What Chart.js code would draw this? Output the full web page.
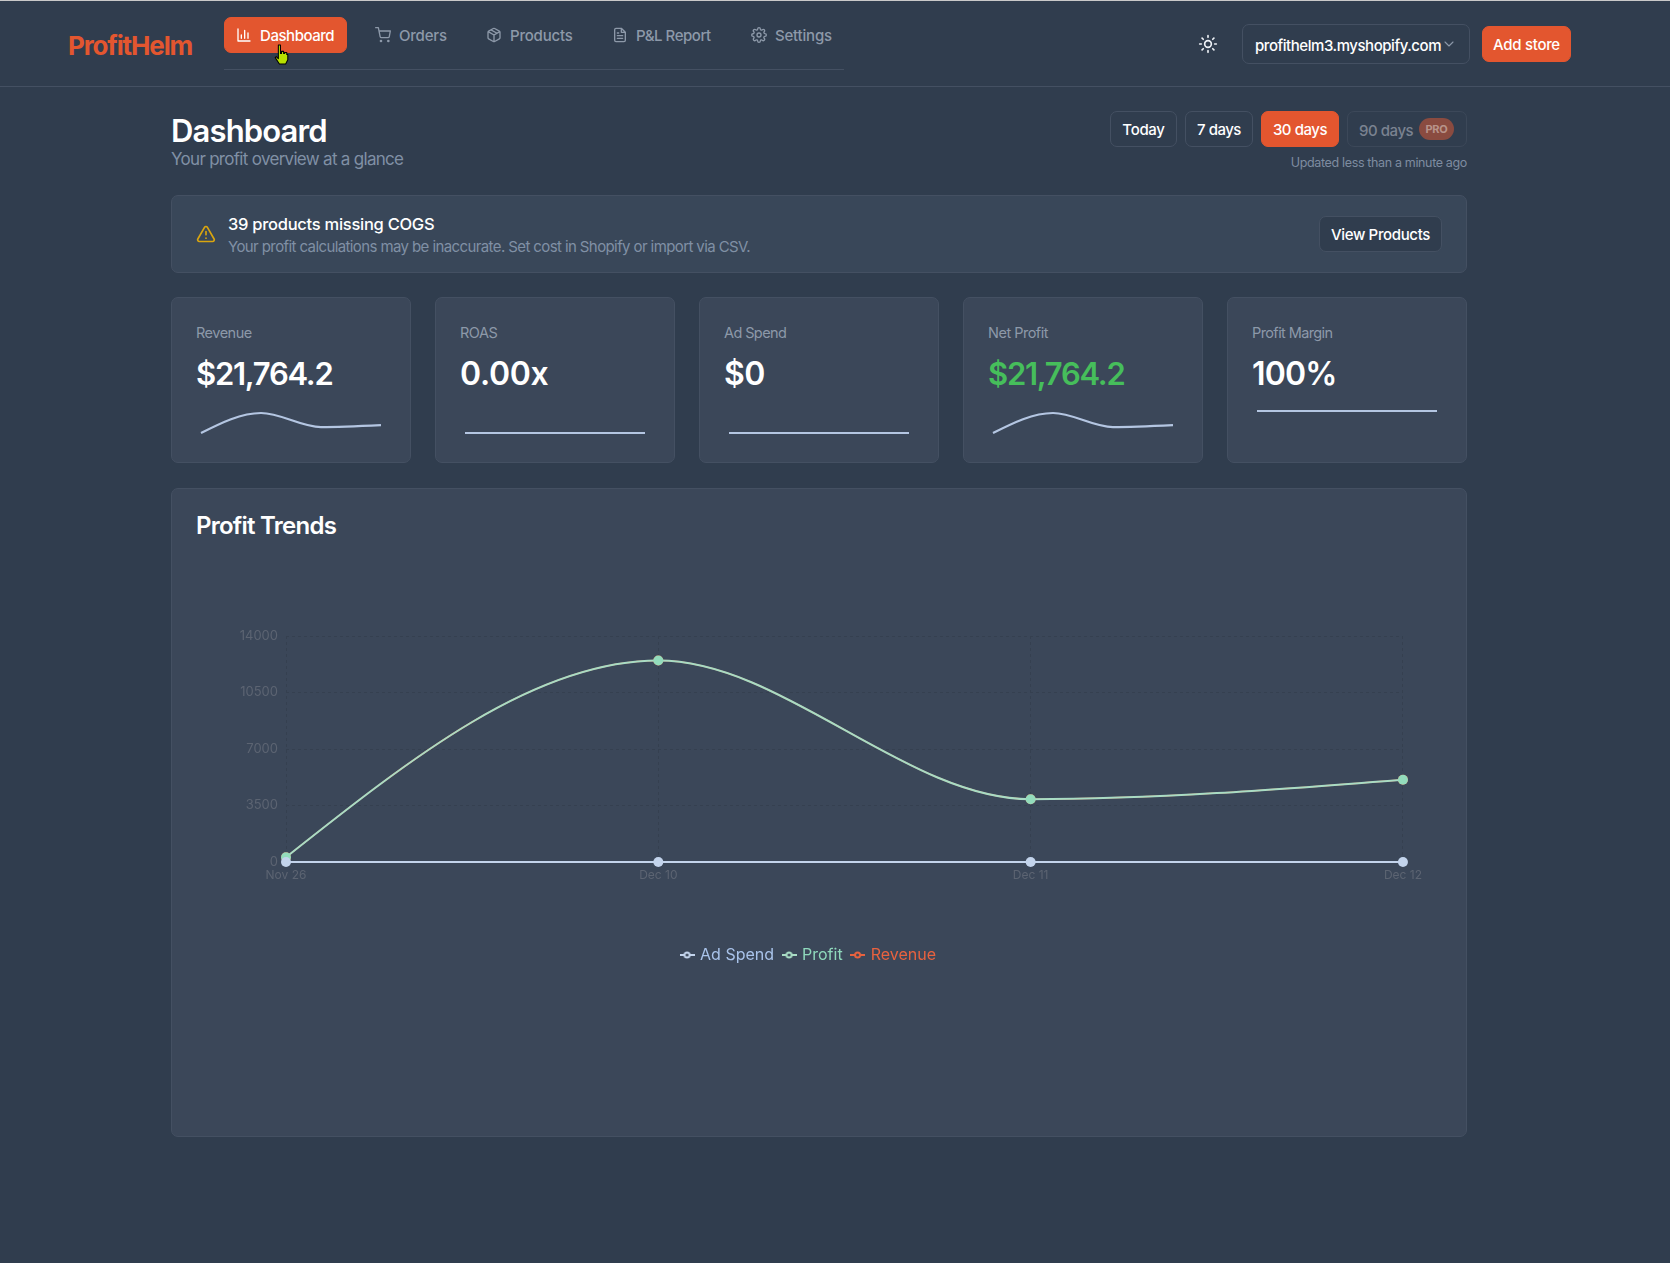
<!DOCTYPE html>
<html>
<head>
<meta charset="utf-8">
<title>ProfitHelm</title>
<script src="https://cdn.jsdelivr.net/npm/chart.js@4"></script>
<style>
  html, body { margin: 0; padding: 0; }
  body { width: 1670px; height: 1263px; position: relative; overflow: hidden; background: #303d4e; font-family: Inter, sans-serif; color: #fff; }
  .box, .t, svg, canvas { position: absolute; }
  .box { box-sizing: border-box; border: 1px solid #445062; border-radius: 7px; }
  .panel { background: #3b4759; }
  .t { white-space: nowrap; transform: translateY(-50%); line-height: 1; letter-spacing: -0.3px; }
  .btn { display: flex; align-items: center; justify-content: center; font-size: 15px; font-weight: 500; letter-spacing: -0.3px; }
  .orange { background: #e3562f; border-color: #e3562f; }
  .nav { font-size: 15px; color: #8d99a9; font-weight: 500; letter-spacing: -0.2px; }
  .lab { font-size: 14.5px; color: #8d99a9; letter-spacing: -0.5px; }
  .val { font-size: 32px; font-weight: 600; letter-spacing: -0.3px; }
  .money { font-size: 31px; letter-spacing: -1.25px; }
  svg { fill: none; stroke: currentColor; stroke-width: 2; stroke-linecap: round; stroke-linejoin: round; }
</style>
</head>
<body>
<div style="position:absolute;left:0;top:0;width:1670px;height:1px;background:#c9c9c9"></div>
<div style="position:absolute;left:0;top:86px;width:1670px;height:1px;background:#445062"></div>
<div style="position:absolute;left:224px;top:69px;width:620px;height:1px;background:#445062"></div>

<div class="t" style="left:68px;top:46px;font-size:26px;font-weight:700;color:#e3562f;letter-spacing:-1.15px">ProfitHelm</div>

<div class="box orange" style="left:224px;top:17px;width:123px;height:36px"></div>
<svg viewBox="0 0 24 24" style="left:236px;top:27px;width:16px;height:16px;color:#fff"><path d="M3 3v18h18M8 17v-5M13 17V5M18 17v-8"/></svg>
<div class="t nav" style="left:260px;top:35px;color:#fff;letter-spacing:-0.45px">Dashboard</div>
<svg viewBox="0 0 24 24" style="left:375px;top:27px;width:16px;height:16px;color:#8d99a9"><circle cx="9" cy="21" r="1"/><circle cx="20" cy="21" r="1"/><path d="M1 1h4l2.7 13.4a2 2 0 0 0 2 1.6h9.7a2 2 0 0 0 2-1.6L23 6H6"/></svg>
<div class="t nav" style="left:399px;top:35px">Orders</div>
<svg viewBox="0 0 24 24" style="left:486px;top:27px;width:16px;height:16px;color:#8d99a9"><path d="M21 8a2 2 0 0 0-1-1.7l-7-4a2 2 0 0 0-2 0l-7 4A2 2 0 0 0 3 8v8a2 2 0 0 0 1 1.7l7 4a2 2 0 0 0 2 0l7-4a2 2 0 0 0 1-1.7zM3.3 7 12 12l8.7-5M12 22V12M7.5 4.3l9 5.1"/></svg>
<div class="t nav" style="left:510px;top:35px">Products</div>
<svg viewBox="0 0 24 24" style="left:612px;top:27px;width:16px;height:16px;color:#8d99a9"><path d="M14 2H6a2 2 0 0 0-2 2v16a2 2 0 0 0 2 2h12a2 2 0 0 0 2-2V8zM14 2v6h6M16 13H8M16 17H8M10 9H8"/></svg>
<div class="t nav" style="left:636px;top:35px;letter-spacing:-0.45px">P&amp;L Report</div>
<svg viewBox="0 0 24 24" style="left:751px;top:27px;width:16px;height:16px;color:#8d99a9"><circle cx="12" cy="12" r="3"/><path d="M19.4 15a1.7 1.7 0 0 0 .3 1.8l.1.1a2 2 0 1 1-2.9 2.9l-.1-.1a1.7 1.7 0 0 0-2.8 1.2V21a2 2 0 1 1-4 0v-.1a1.7 1.7 0 0 0-2.9-1.1l-.1.1a2 2 0 1 1-2.9-2.9l.1-.1a1.7 1.7 0 0 0-1.2-2.8H3a2 2 0 1 1 0-4h.1a1.7 1.7 0 0 0 1.1-2.9l-.1-.1a2 2 0 1 1 2.9-2.9l.1.1a1.7 1.7 0 0 0 1.8.3H9a1.7 1.7 0 0 0 1-1.5V3a2 2 0 1 1 4 0v.1a1.7 1.7 0 0 0 2.9 1.1l.1-.1a2 2 0 1 1 2.9 2.9l-.1.1a1.7 1.7 0 0 0-.3 1.8V9a1.7 1.7 0 0 0 1.5 1H21a2 2 0 1 1 0 4h-.1a1.7 1.7 0 0 0-1.5 1z"/></svg>
<div class="t nav" style="left:775px;top:35px">Settings</div>

<!-- hand cursor over the active tab -->
<svg viewBox="0 0 14 20" style="left:274px;top:44px;width:15px;height:21px;stroke:#000;stroke-width:1;fill:#b7e000"><path d="M4 1h2v8h1V7h2v2h1V8h2v2h1v5l-2 4H5l-4-6 1-1 2 2z"/></svg>

<svg viewBox="0 0 24 24" style="left:1198px;top:34px;width:20px;height:20px;color:#eef2f7"><circle cx="12" cy="12" r="4"/><path d="M12 2v2M12 20v2M4.9 4.9l1.4 1.4M17.7 17.7l1.4 1.4M2 12h2M20 12h2M6.3 17.7l-1.4 1.4M19.1 4.9l-1.4 1.4"/></svg>
<div class="box" style="left:1242px;top:24px;width:228px;height:40px"></div>
<div class="t" style="left:1255px;top:45px;font-size:15px;font-weight:500;letter-spacing:-0.45px">profithelm3.myshopify.com</div>
<svg viewBox="0 0 24 24" style="left:1441px;top:36px;width:16px;height:16px;color:#8d99a9;stroke-width:1.6"><path d="m6 9 6 6 6-6"/></svg>
<div class="box orange btn" style="left:1482px;top:26px;width:89px;height:36px">Add store</div>

<div class="t" style="left:171px;top:130px;font-size:31px;font-weight:600;letter-spacing:-0.85px">Dashboard</div>
<div class="t" style="left:171px;top:159px;font-size:17px;color:#8090a5;letter-spacing:-0.7px">Your profit overview at a glance</div>

<div class="box btn" style="left:1110px;top:111px;width:67px;height:36px">Today</div>
<div class="box btn" style="left:1185px;top:111px;width:68px;height:36px;letter-spacing:-0.5px">7 days</div>
<div class="box orange btn" style="left:1261px;top:111px;width:78px;height:36px;letter-spacing:-0.45px">30 days</div>
<div class="box" style="left:1347px;top:111px;width:120px;height:36px;border-color:#3c4859"></div>
<div class="t" style="left:1359px;top:130px;font-size:15px;font-weight:500;color:#7b8391;letter-spacing:-0.45px">90 days</div>
<div class="box btn" style="left:1419px;top:118px;width:35px;height:22px;border-radius:11px;border:0;background:#8a4b40;color:#b8938a;font-size:11px;font-weight:700">PRO</div>
<div class="t" style="right:203px;top:163px;font-size:12.5px;color:#7e8ca0;letter-spacing:-0.35px">Updated less than a minute ago</div>

<div class="box panel" style="left:171px;top:195px;width:1296px;height:78px;background:#394759"></div>
<svg viewBox="0 0 24 24" style="left:196px;top:224px;width:20px;height:20px;color:#d9a50f"><path d="m21.7 18-8-14a2 2 0 0 0-3.5 0l-8 14A2 2 0 0 0 4 21h16a2 2 0 0 0 1.7-3zM12 9v4M12 17h.01"/></svg>
<div class="t" style="left:228px;top:224px;font-size:16.5px;font-weight:500;letter-spacing:-0.27px">39 products missing COGS</div>
<div class="t" style="left:228px;top:246px;font-size:15px;color:#8090a5;letter-spacing:-0.6px">Your profit calculations may be inaccurate. Set cost in Shopify or import via CSV.</div>
<div class="box btn" style="left:1319px;top:216px;width:123px;height:36px;background:#303d4e;letter-spacing:-0.35px">View Products</div>

<div class="box panel" style="left:171px;top:297px;width:240px;height:166px"></div>
<div class="box panel" style="left:435px;top:297px;width:240px;height:166px"></div>
<div class="box panel" style="left:699px;top:297px;width:240px;height:166px"></div>
<div class="box panel" style="left:963px;top:297px;width:240px;height:166px"></div>
<div class="box panel" style="left:1227px;top:297px;width:240px;height:166px"></div>

<div class="t lab" style="left:196px;top:333px">Revenue</div>
<div class="t lab" style="left:460px;top:333px">ROAS</div>
<div class="t lab" style="left:724px;top:333px;letter-spacing:-0.6px">Ad Spend</div>
<div class="t lab" style="left:988px;top:333px">Net Profit</div>
<div class="t lab" style="left:1252px;top:333px;letter-spacing:-0.6px">Profit Margin</div>
<div class="t val money" style="left:196px;top:373px">$21,764.2</div>
<div class="t val" style="left:460px;top:374px">0.00x</div>
<div class="t val" style="left:724px;top:374px;letter-spacing:-0.5px">$0</div>
<div class="t val money" style="left:988px;top:373px;color:#46be5b">$21,764.2</div>
<div class="t val" style="left:1252px;top:374px;letter-spacing:-0.8px">100%</div>

<canvas id="sparkRevenue" width="184" height="24" style="left:199px;top:411px"></canvas>
<canvas id="sparkRoas" width="184" height="24" style="left:463px;top:411px"></canvas>
<canvas id="sparkAdSpend" width="184" height="24" style="left:727px;top:411px"></canvas>
<canvas id="sparkProfit" width="184" height="24" style="left:991px;top:411px"></canvas>
<canvas id="sparkMargin" width="184" height="24" style="left:1255px;top:409px"></canvas>

<div class="box panel" style="left:171px;top:488px;width:1296px;height:649px"></div>
<div class="t" style="left:196px;top:526px;font-size:24px;font-weight:600;letter-spacing:-0.75px">Profit Trends</div>
<canvas id="trendChart" width="1238" height="373" style="left:190px;top:600px"></canvas>

<script>
var dates = ['Nov 26', 'Dec 10', 'Dec 11', 'Dec 12'];
var adSpend = [0, 0, 0, 0];
var profit = [294.2, 12480, 3890, 5100];
var revenue = [294.2, 12480, 3890, 5100];
var roas = [0, 0, 0, 0];
var margin = [100, 100, 100, 100];
var yTicks = [0, 3500, 7000, 10500, 14000];

var tickColor = '#5c6472';
var gridColor = '#354050';

// little line + ring icon for the legend
function legendIcon(color) {
  var c = document.createElement('canvas');
  c.width = 15; c.height = 10;
  var g = c.getContext('2d');
  g.strokeStyle = color;
  g.lineWidth = 2;
  g.beginPath(); g.moveTo(0, 5); g.lineTo(15, 5); g.stroke();
  g.beginPath(); g.arc(7.5, 5, 2.5, 0, Math.PI * 2);
  g.fillStyle = '#3b4759'; g.fill(); g.stroke();
  return c;
}

// the monotone curve leaves its end points a bit steeper than chart.js does by default
var endTangents = {
  id: 'endTangents',
  beforeDatasetDraw: function (chart, args) {
    var line = args.meta.dataset;
    line.updateControlPoints(chart.chartArea);
    var pts = args.meta.data;
    var n = pts.length - 1;
    var h0 = pts[1].x - pts[0].x;
    var t1 = (pts[1].y - pts[1].cp1y) / (h0 / 3);
    pts[0].cp2y = pts[0].y + h0 / 3 * (3 * (pts[1].y - pts[0].y) / h0 - t1) / 2;
    var hn = pts[n].x - pts[n - 1].x;
    var tn = (pts[n - 1].cp2y - pts[n - 1].y) / (hn / 3);
    pts[n].cp1y = pts[n].y - hn / 3 * (3 * (pts[n].y - pts[n - 1].y) / hn - tn) / 2;
  }
};

function lineSet(label, values, color, pointColor, labelColor, width) {
  return {
    label: label,
    data: values,
    labelColor: labelColor,
    borderColor: color,
    backgroundColor: pointColor,
    borderWidth: width,
    pointRadius: 5,
    pointBorderWidth: 0,
    cubicInterpolationMode: 'monotone',
    clip: false
  };
}

new Chart(document.getElementById('trendChart').getContext('2d'), {
  type: 'line',
  plugins: [endTangents],
  data: {
    labels: dates,
    datasets: [
      lineSet('Ad Spend', adSpend, '#c3d4ec', '#c3d4ec', '#a9c3ea', 2),
      lineSet('Profit', profit, '#a8dcc4', '#93dcbc', '#8fd9bc', 2),
      lineSet('Revenue', revenue, '#e8623f', '#e8623f', '#e8623f', 1.5)
    ]
  },
  options: {
    responsive: false,
    animation: false,
    layout: { padding: { top: 36 } },
    scales: {
      x: {
        afterFit: function (scale) { scale.height = 75; },
        grid: { color: gridColor, drawTicks: false },
        border: { display: false, dash: [3, 3] },
        ticks: { color: tickColor, font: { family: 'Inter', size: 12 }, padding: 6, maxRotation: 0, autoSkip: false }
      },
      y: {
        min: 0,
        max: 14000,
        afterFit: function (scale) { scale.width = 96; },
        afterBuildTicks: function (scale) { scale.ticks = yTicks.map(function (v) { return { value: v }; }); },
        grid: { color: gridColor, drawTicks: false },
        border: { display: false, dash: [3, 3] },
        ticks: {
          color: tickColor,
          font: { family: 'Inter', size: 13 },
          padding: 8,
          callback: function (v) { return String(v); }
        }
      }
    },
    plugins: {
      tooltip: { enabled: false },
      legend: {
        position: 'bottom',
        labels: {
          usePointStyle: true,
          pointStyleWidth: 10,
          padding: 10,
          font: { family: 'Inter', size: 16 },
          generateLabels: function (chart) {
            return chart.data.datasets.map(function (d, i) {
              return { text: d.label, fontColor: d.labelColor, pointStyle: legendIcon(d.borderColor), lineWidth: 0, hidden: false, datasetIndex: i };
            });
          }
        }
      }
    }
  }
});

function spark(id, values, low, high) {
  new Chart(document.getElementById(id).getContext('2d'), {
    type: 'line',
    plugins: [endTangents],
    data: {
      labels: dates,
      datasets: [{ data: values, borderColor: '#b4c6e2', borderWidth: 2.2, pointRadius: 0, cubicInterpolationMode: 'monotone', clip: false }]
    },
    options: {
      responsive: false,
      animation: false,
      layout: { padding: 2 },
      scales: { x: { display: false }, y: { display: false, min: low, max: high } },
      plugins: { legend: { display: false }, tooltip: { enabled: false } }
    }
  });
}

spark('sparkRevenue', revenue, Math.min.apply(null, revenue), Math.max.apply(null, revenue));
spark('sparkRoas', roas, 0, 1);
spark('sparkAdSpend', adSpend, 0, 1);
spark('sparkProfit', profit, Math.min.apply(null, profit), Math.max.apply(null, profit));
spark('sparkMargin', margin, 0, 100);
</script>
</body>
</html>
